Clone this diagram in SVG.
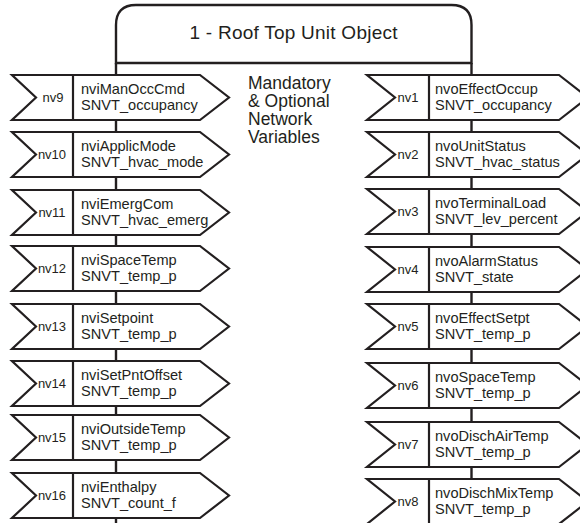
<svg xmlns="http://www.w3.org/2000/svg" xmlns:xlink="http://www.w3.org/1999/xlink" width="580" height="523" viewBox="0 0 580 523">
<style>
.s{fill:#fff;stroke:#231f20;stroke-width:2.2;stroke-linejoin:miter}
.d{stroke:#231f20;stroke-width:2.2}
.c{stroke:#231f20;stroke-width:2.4;fill:none}
text{font-family:"Liberation Sans",Arial,Helvetica,sans-serif;fill:#231f20}
.n{font-size:14.6px}
.v{font-size:13px;text-anchor:middle}
.t{font-size:19px;text-anchor:middle}
.m{font-size:17.5px}
</style>
<defs>
<g id="ls"><path class="s" d="M12,0 H200 L229,22.5 L200,45 H12 L36,22.5 Z"/><line class="d" x1="73" y1="0" x2="73" y2="45"/></g>
<g id="rs"><path class="s" d="M367,0 H559 L588,22.5 L559,45 H367 L395,22.5 Z"/><line class="d" x1="429" y1="0" x2="429" y2="45"/></g>
</defs>
<rect width="580" height="523" fill="#fff"/>
<g id="connectors">
<line class="c" x1="116" y1="63" x2="116" y2="523"/>
<line class="c" x1="471.5" y1="63" x2="471.5" y2="523"/>
</g>
<g id="object">
<path class="c" d="M116,63 V25 Q116,5 136,5 H451.5 Q471.5,5 471.5,25 V63 Z"/>
<text class="t" x="293.5" y="39" textLength="208" lengthAdjust="spacing">1 - Roof Top Unit Object</text>
</g>
<g id="caption">
<text class="m" x="248" y="89">Mandatory</text>
<text class="m" x="248" y="107">&amp; Optional</text>
<text class="m" x="248" y="125">Network</text>
<text class="m" x="248" y="143">Variables</text>
</g>
<g id="nv9" transform="translate(0,75)"><use xlink:href="#ls"/><text class="v" x="53" y="27">nv9</text><text class="n" x="81" y="19">nviManOccCmd</text><text class="n" x="81" y="35">SNVT_occupancy</text></g>
<g id="nv10" transform="translate(0,132)"><use xlink:href="#ls"/><text class="v" x="52" y="27">nv10</text><text class="n" x="81" y="19">nviApplicMode</text><text class="n" x="81" y="35">SNVT_hvac_mode</text></g>
<g id="nv11" transform="translate(0,190)"><use xlink:href="#ls"/><text class="v" x="52" y="27">nv11</text><text class="n" x="81" y="19">nviEmergCom</text><text class="n" x="81" y="35">SNVT_hvac_emerg</text></g>
<g id="nv12" transform="translate(0,246)"><use xlink:href="#ls"/><text class="v" x="52" y="27">nv12</text><text class="n" x="81" y="19">nviSpaceTemp</text><text class="n" x="81" y="35">SNVT_temp_p</text></g>
<g id="nv13" transform="translate(0,304)"><use xlink:href="#ls"/><text class="v" x="52" y="27">nv13</text><text class="n" x="81" y="19">nviSetpoint</text><text class="n" x="81" y="35">SNVT_temp_p</text></g>
<g id="nv14" transform="translate(0,361)"><use xlink:href="#ls"/><text class="v" x="52" y="27">nv14</text><text class="n" x="81" y="19">nviSetPntOffset</text><text class="n" x="81" y="35">SNVT_temp_p</text></g>
<g id="nv15" transform="translate(0,415)"><use xlink:href="#ls"/><text class="v" x="52" y="27">nv15</text><text class="n" x="81" y="19">nviOutsideTemp</text><text class="n" x="81" y="35">SNVT_temp_p</text></g>
<g id="nv16" transform="translate(0,473)"><use xlink:href="#ls"/><text class="v" x="52" y="27">nv16</text><text class="n" x="81" y="19">nviEnthalpy</text><text class="n" x="81" y="35">SNVT_count_f</text></g>
<g id="nv1" transform="translate(0,75)"><use xlink:href="#rs"/><text class="v" x="408" y="27">nv1</text><text class="n" x="435" y="19">nvoEffectOccup</text><text class="n" x="435" y="35">SNVT_occupancy</text></g>
<g id="nv2" transform="translate(0,132)"><use xlink:href="#rs"/><text class="v" x="408" y="27">nv2</text><text class="n" x="435" y="19">nvoUnitStatus</text><text class="n" x="435" y="35">SNVT_hvac_status</text></g>
<g id="nv3" transform="translate(0,189)"><use xlink:href="#rs"/><text class="v" x="408" y="27">nv3</text><text class="n" x="435" y="19">nvoTerminalLoad</text><text class="n" x="435" y="35">SNVT_lev_percent</text></g>
<g id="nv4" transform="translate(0,247)"><use xlink:href="#rs"/><text class="v" x="408" y="27">nv4</text><text class="n" x="435" y="19">nvoAlarmStatus</text><text class="n" x="435" y="35">SNVT_state</text></g>
<g id="nv5" transform="translate(0,304)"><use xlink:href="#rs"/><text class="v" x="408" y="27">nv5</text><text class="n" x="435" y="19">nvoEffectSetpt</text><text class="n" x="435" y="35">SNVT_temp_p</text></g>
<g id="nv6" transform="translate(0,363)"><use xlink:href="#rs"/><text class="v" x="408" y="27">nv6</text><text class="n" x="435" y="19">nvoSpaceTemp</text><text class="n" x="435" y="35">SNVT_temp_p</text></g>
<g id="nv7" transform="translate(0,422)"><use xlink:href="#rs"/><text class="v" x="408" y="27">nv7</text><text class="n" x="435" y="19">nvoDischAirTemp</text><text class="n" x="435" y="35">SNVT_temp_p</text></g>
<g id="nv8" transform="translate(0,479)"><use xlink:href="#rs"/><text class="v" x="408" y="27">nv8</text><text class="n" x="435" y="19">nvoDischMixTemp</text><text class="n" x="435" y="35">SNVT_temp_p</text></g>
</svg>
